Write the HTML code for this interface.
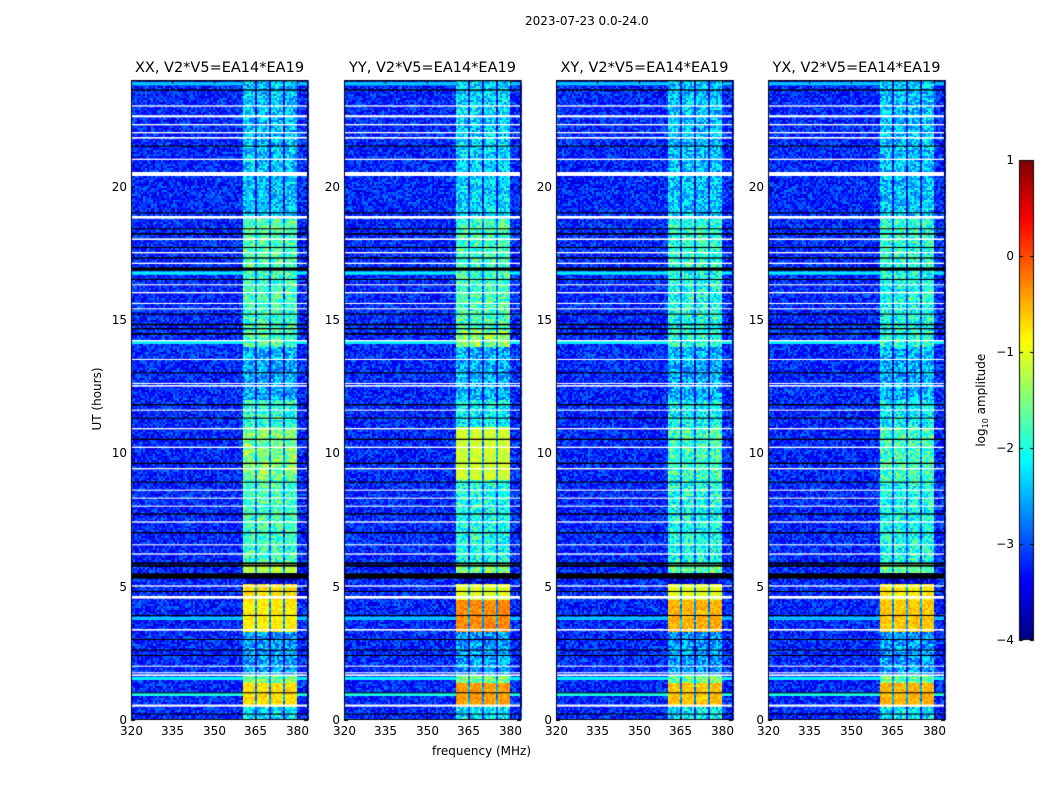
<!DOCTYPE html>
<html><head><meta charset="utf-8">
<style>
body{margin:0;background:#fff;font-family:"DejaVu Sans","Liberation Sans",sans-serif;}
#wrap{position:relative;width:1050px;height:800px;overflow:hidden;}
.t{position:absolute;font-size:12px;color:#000;white-space:nowrap;}
canvas{position:absolute;}
</style></head>
<body>
<div id="wrap">
<div class="t" style="left:525px;top:14px;">2023-07-23 0.0-24.0</div>
<div class="t" style="left:57px;top:392px;transform:rotate(-90deg);width:80px;text-align:center;">UT (hours)</div>
<div class="t" style="left:432px;top:744px;">frequency (MHz)</div>
<div class="t" style="left:932px;top:392px;transform:rotate(-90deg);width:100px;text-align:center;">log<sub style="font-size:8px">10</sub> amplitude</div>
<canvas id="cv" width="1050" height="800" style="left:0;top:0"></canvas>
</div>
<script>
// ---- data ----
const panelTitles = ["XX, V2*V5=EA14*EA19","YY, V2*V5=EA14*EA19","XY, V2*V5=EA14*EA19","YX, V2*V5=EA14*EA19"];
const xTicks = [320,335,350,365,380];
const yTicks = [0,5,10,15,20];
const cbTicks = [1,0,-1,-2,-3,-4];
const cbLabels = ["1","0","\u22121","\u22122","\u22123","\u22124"];
const bandLo = 360.5, bandHi = 379.6;
const gapFreqs = [364.9,370.0,375.1];
const segStart = [0,0.5,1.4,1.7,3.3,4.5,5.1,5.5,5.9,9,11,12,14,14.6,17,18.8];
const segEnd   = [0.5,1.4,1.7,3.3,4.5,5.1,5.5,5.9,9,11,12,14,14.6,17,18.8,24];
const segXX = [-2.2,-0.7,-1.5,-2.6,-0.8,-0.7,-3.5,-1.2,-1.8,-1.5,-1.9,-2.5,-1.7,-1.8,-1.7,-2.4];
const segYY = [-2.2,-0.4,-1.5,-2.6,-0.3,-1.0,-3.5,-1.5,-2.0,-1.1,-2.1,-2.5,-1.4,-1.8,-1.8,-2.3];
const segXY = [-2.2,-0.6,-1.6,-2.6,-0.5,-1.0,-3.5,-1.6,-2.0,-1.8,-2.1,-2.5,-1.9,-2.0,-1.9,-2.4];
const segYX = [-2.2,-0.5,-1.6,-2.6,-0.6,-0.8,-3.5,-1.6,-2.0,-1.8,-2.1,-2.5,-1.9,-2.0,-1.9,-2.4];
const bgLevel = -3.2;
const whiteHours = [0.5,1.65,1.75,2.0,3.35,4.55,5.0,6.2,6.55,7.4,8.0,8.3,8.6,9.4,10.2,10.9,11.6,12.5,12.6,13.5,14.2,15.4,15.6,16.0,16.3,17.1,17.5,18.0,18.8,20.4,21.0,21.8,22.0,22.3,22.6,23.0];
const whiteWidth = [0.08,0.06,0.04,0.04,0.06,0.1,0.05,0.05,0.04,0.05,0.04,0.04,0.04,0.05,0.05,0.05,0.04,0.06,0.04,0.04,0.05,0.04,0.04,0.05,0.04,0.05,0.05,0.06,0.1,0.15,0.05,0.06,0.05,0.05,0.08,0.05];
const blackHours = [0.2,1.0,2.4,2.6,3.0,3.9,4.8,5.3,5.4,5.75,5.85,7.0,7.7,8.9,9.6,10.5,11.3,11.8,13.0,14.45,14.65,14.8,15.2,16.5,16.85,17.3,17.7,18.2,18.4,19.0,21.5,23.6,23.95];
const blackWidth = [0.04,0.04,0.04,0.04,0.04,0.04,0.04,0.15,0.1,0.08,0.06,0.05,0.05,0.04,0.05,0.05,0.04,0.05,0.04,0.06,0.05,0.06,0.04,0.04,0.12,0.05,0.04,0.06,0.04,0.04,0.04,0.05,0.05];
const stripeHours = [0.9,1.5,3.75,14.1,16.7,23.8];
const stripeLevel = [-2.0,-2.2,-2.4,-2.2,-2.2,-2.4];
// ---- layout ----
const panelX = [131,344,556,768], PW=177, PT=80, PB=720;
const f0=320,f1=384,h0=0,h1=24;
function xs(px,f){return px+(f-f0)/(f1-f0)*PW;}
function ys(h){return PB-(h-h0)/(h1-h0)*(PB-PT);}
function jet(v){let t=Math.max(0,Math.min(1,(v+4)/5));
 const r=Math.max(0,Math.min(1,1.5-Math.abs(4*t-3))),g=Math.max(0,Math.min(1,1.5-Math.abs(4*t-2))),b=Math.max(0,Math.min(1,1.5-Math.abs(4*t-1)));
 return `rgb(${r*255|0},${g*255|0},${b*255|0})`;}
// texture generator (deterministic, sequential)
let seed=123456789;
function tex(){seed|=0;seed=seed+0x6D2B79F5|0;let t=Math.imul(seed^seed>>>15,1|seed);
 t=t+Math.imul(t^t>>>7,61|t)^t;return ((t^t>>>14)>>>0)/4294967296;}
const cv=document.getElementById('cv'),c=cv.getContext('2d');
const segs=[segXX,segYY,segXY,segYX];
const wrap=document.getElementById('wrap');
function lbl(txt,x,y,align,name){const d=document.createElement('div');d.className='t';d.textContent=txt;
 d.style.top=(y-8)+'px';
 if(align==='c'){d.style.left=(x-40)+'px';d.style.width='80px';d.style.textAlign='center';}
 else {d.style.left=(x-60)+'px';d.style.width='60px';d.style.textAlign='right';}
 
 
 wrap.appendChild(d);return d;}
panelX.forEach((px,p)=>{
 const seg=segs[p];
 for(let yy=PT;yy<PB;yy+=2)for(let xx=px;xx<px+PW;xx+=2){
  c.fillStyle=jet(bgLevel+(tex()-0.5)*0.9);c.fillRect(xx,yy,2,2);}
 stripeHours.forEach((h,i)=>{c.fillStyle=jet(stripeLevel[i]);c.fillRect(px,ys(h+0.12),PW,ys(h)-ys(h+0.12));});
 const x0=Math.round(xs(px,bandLo)),x1=Math.round(xs(px,bandHi));
 const gx=gapFreqs.map(f=>Math.round(xs(px,f)));
 for(let s=0;s<segStart.length;s++){
  const yT=Math.round(ys(segEnd[s])),yB=Math.round(ys(segStart[s]));
  for(let yy=yT;yy<yB;yy+=2){
   const hh=Math.min(2,yB-yy);
   for(let xx=x0;xx<x1;xx+=2){
    const inGap=gx.some(g=>xx>=g-1&&xx<g+1);
    const r=tex();
    const v=inGap?Math.min(seg[s]-1.0,-2.6)+(r-0.5)*0.8
                 :seg[s]+(r-0.5)*(seg[s]>-1.3?0.4:1.1);
    c.fillStyle=jet(v);c.fillRect(xx,yy,2,hh);}
  }
 }
 blackHours.forEach((h,i)=>{c.fillStyle='#000';const a=ys(h+blackWidth[i]);c.fillRect(px,a,PW,Math.max(1,ys(h)-a));});
 whiteHours.forEach((h,i)=>{c.fillStyle='#fff';const a=ys(h+whiteWidth[i]);c.fillRect(px,a,PW,Math.max(1,ys(h)-a));});
 c.strokeStyle='#000';c.lineWidth=1;c.strokeRect(px+0.5,PT+0.5,PW-1,PB-PT-1);
 xTicks.forEach(f=>{const x=Math.round(xs(px,f))+0.5;c.beginPath();c.moveTo(x,PB);c.lineTo(x,PB-4);c.moveTo(x,PT);c.lineTo(x,PT+4);c.stroke();
  lbl(String(f),x,PB+12,'c','x-tick-label');});
 yTicks.forEach(h=>{const y=Math.round(ys(h))+0.5;c.beginPath();c.moveTo(px,y);c.lineTo(px+4,y);c.moveTo(px+PW,y);c.lineTo(px+PW-4,y);c.stroke();
  lbl(String(h),px-4,y,'r','y-tick-label');});
 const t=lbl(panelTitles[p],px+PW/2,PT-12,'c','panel-title');
 t.style.fontSize='14.5px';t.style.left=(px+PW/2-110)+'px';t.style.width='220px';
});
const CBX=1019,CBW=15,CBT=160,CBB=640;
for(let yy=CBT;yy<CBB;yy++){c.fillStyle=jet(1-(yy-CBT)/(CBB-CBT)*5);c.fillRect(CBX,yy,CBW,1);}
c.strokeStyle='#000';c.strokeRect(CBX+0.5,CBT+0.5,CBW-1,CBB-CBT-1);
cbTicks.forEach((v,i)=>{const y=Math.round(CBT+(1-v)/5*(CBB-CBT))+0.5;
 c.beginPath();c.moveTo(CBX,y);c.lineTo(CBX+4,y);c.moveTo(CBX+CBW,y);c.lineTo(CBX+CBW-4,y);c.stroke();
 lbl(cbLabels[i],CBX-5,y,'r','colorbar-tick-label');});
</script>
</body></html>
